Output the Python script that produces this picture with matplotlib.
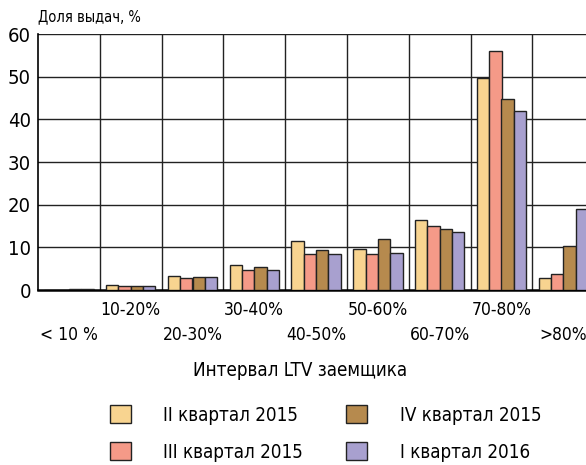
import matplotlib
matplotlib.use("Agg")
import matplotlib.pyplot as plt
import numpy as np

plt.rcParams['font.family'] = ['DejaVu Sans']
plt.rcParams['font.stretch'] = 'condensed'

categories = ['< 10 %', '10-20%', '20-30%', '30-40%', '40-50%',
              '50-60%', '60-70%', '70-80%', '>80%']
series = ['II квартал 2015', 'III квартал 2015', 'IV квартал 2015', 'I квартал 2016']
q2_2015 = [0.1, 1.1, 3.2, 5.9, 11.6, 9.5, 16.4, 49.8, 2.8]
q3_2015 = [0.1, 1.0, 2.8, 4.6, 8.4, 8.4, 14.9, 56.1, 3.7]
q4_2015 = [0.3, 1.0, 3.0, 5.4, 9.4, 11.9, 14.3, 44.8, 10.2]
q1_2016 = [0.2, 0.9, 3.0, 4.8, 8.4, 8.6, 13.7, 41.9, 19.0]
colors = ['#F8D490', '#F59A88', '#B68A4E', '#A8A0CF']

fig = plt.figure(figsize=(5.86, 4.65), dpi=100)
ax = fig.add_axes([38 / 586, 1 - 290 / 465, 548 / 586, 256 / 465])

x = np.arange(len(categories))
w = 0.2
for i, (vals, c, name) in enumerate(zip([q2_2015, q3_2015, q4_2015, q1_2016], colors, series)):
    ax.bar(x + (i - 1.5) * w, vals, w, color=c, edgecolor='#222222',
           linewidth=1, label=name, zorder=3)

ax.set_ylim(0, 60)
ax.set_xlim(-0.5, -0.5 + 548 / 61.8)
ax.set_yticks(range(0, 61, 10))
for y in range(10, 61, 10):
    ax.axhline(y, color='#222222', lw=1, zorder=1)
for b in np.arange(0.5, len(categories)):
    ax.axvline(b, color='#222222', lw=1, zorder=1)

for s in ['top', 'right']:
    ax.spines[s].set_visible(False)
ax.spines['left'].set_linewidth(1.2)
ax.spines['bottom'].set_linewidth(1.8)
ax.tick_params(axis='y', length=0, labelsize=14.5, pad=5)
ax.tick_params(axis='x', length=0)
ax.set_xticks(x)
ax.set_xticklabels([])
for i, lab in enumerate(categories):
    yy = -20 / 256 if i % 2 else -45 / 256
    ax.text(i, yy, lab, transform=ax.get_xaxis_transform(), fontsize=12.5,
            ha='center', va='center', clip_on=False)

fig.text(300 / 586, 1 - 370 / 465, 'Интервал LTV заемщика', fontsize=13.5,
         ha='center', va='center')
fig.text(38 / 586, 1 - 17 / 465, 'Доля выдач, %', fontsize=10.5,
         ha='left', va='center')

fig.legend(loc='center left', bbox_to_anchor=(110 / 586, 1 - 433.5 / 465), ncol=2,
           frameon=False, fontsize=13.5, handlelength=1.1, handleheight=1.1,
           handletextpad=1.75, columnspacing=2.3, labelspacing=0.95,
           borderpad=0, borderaxespad=0)

fig.savefig('out.png', dpi=100)
